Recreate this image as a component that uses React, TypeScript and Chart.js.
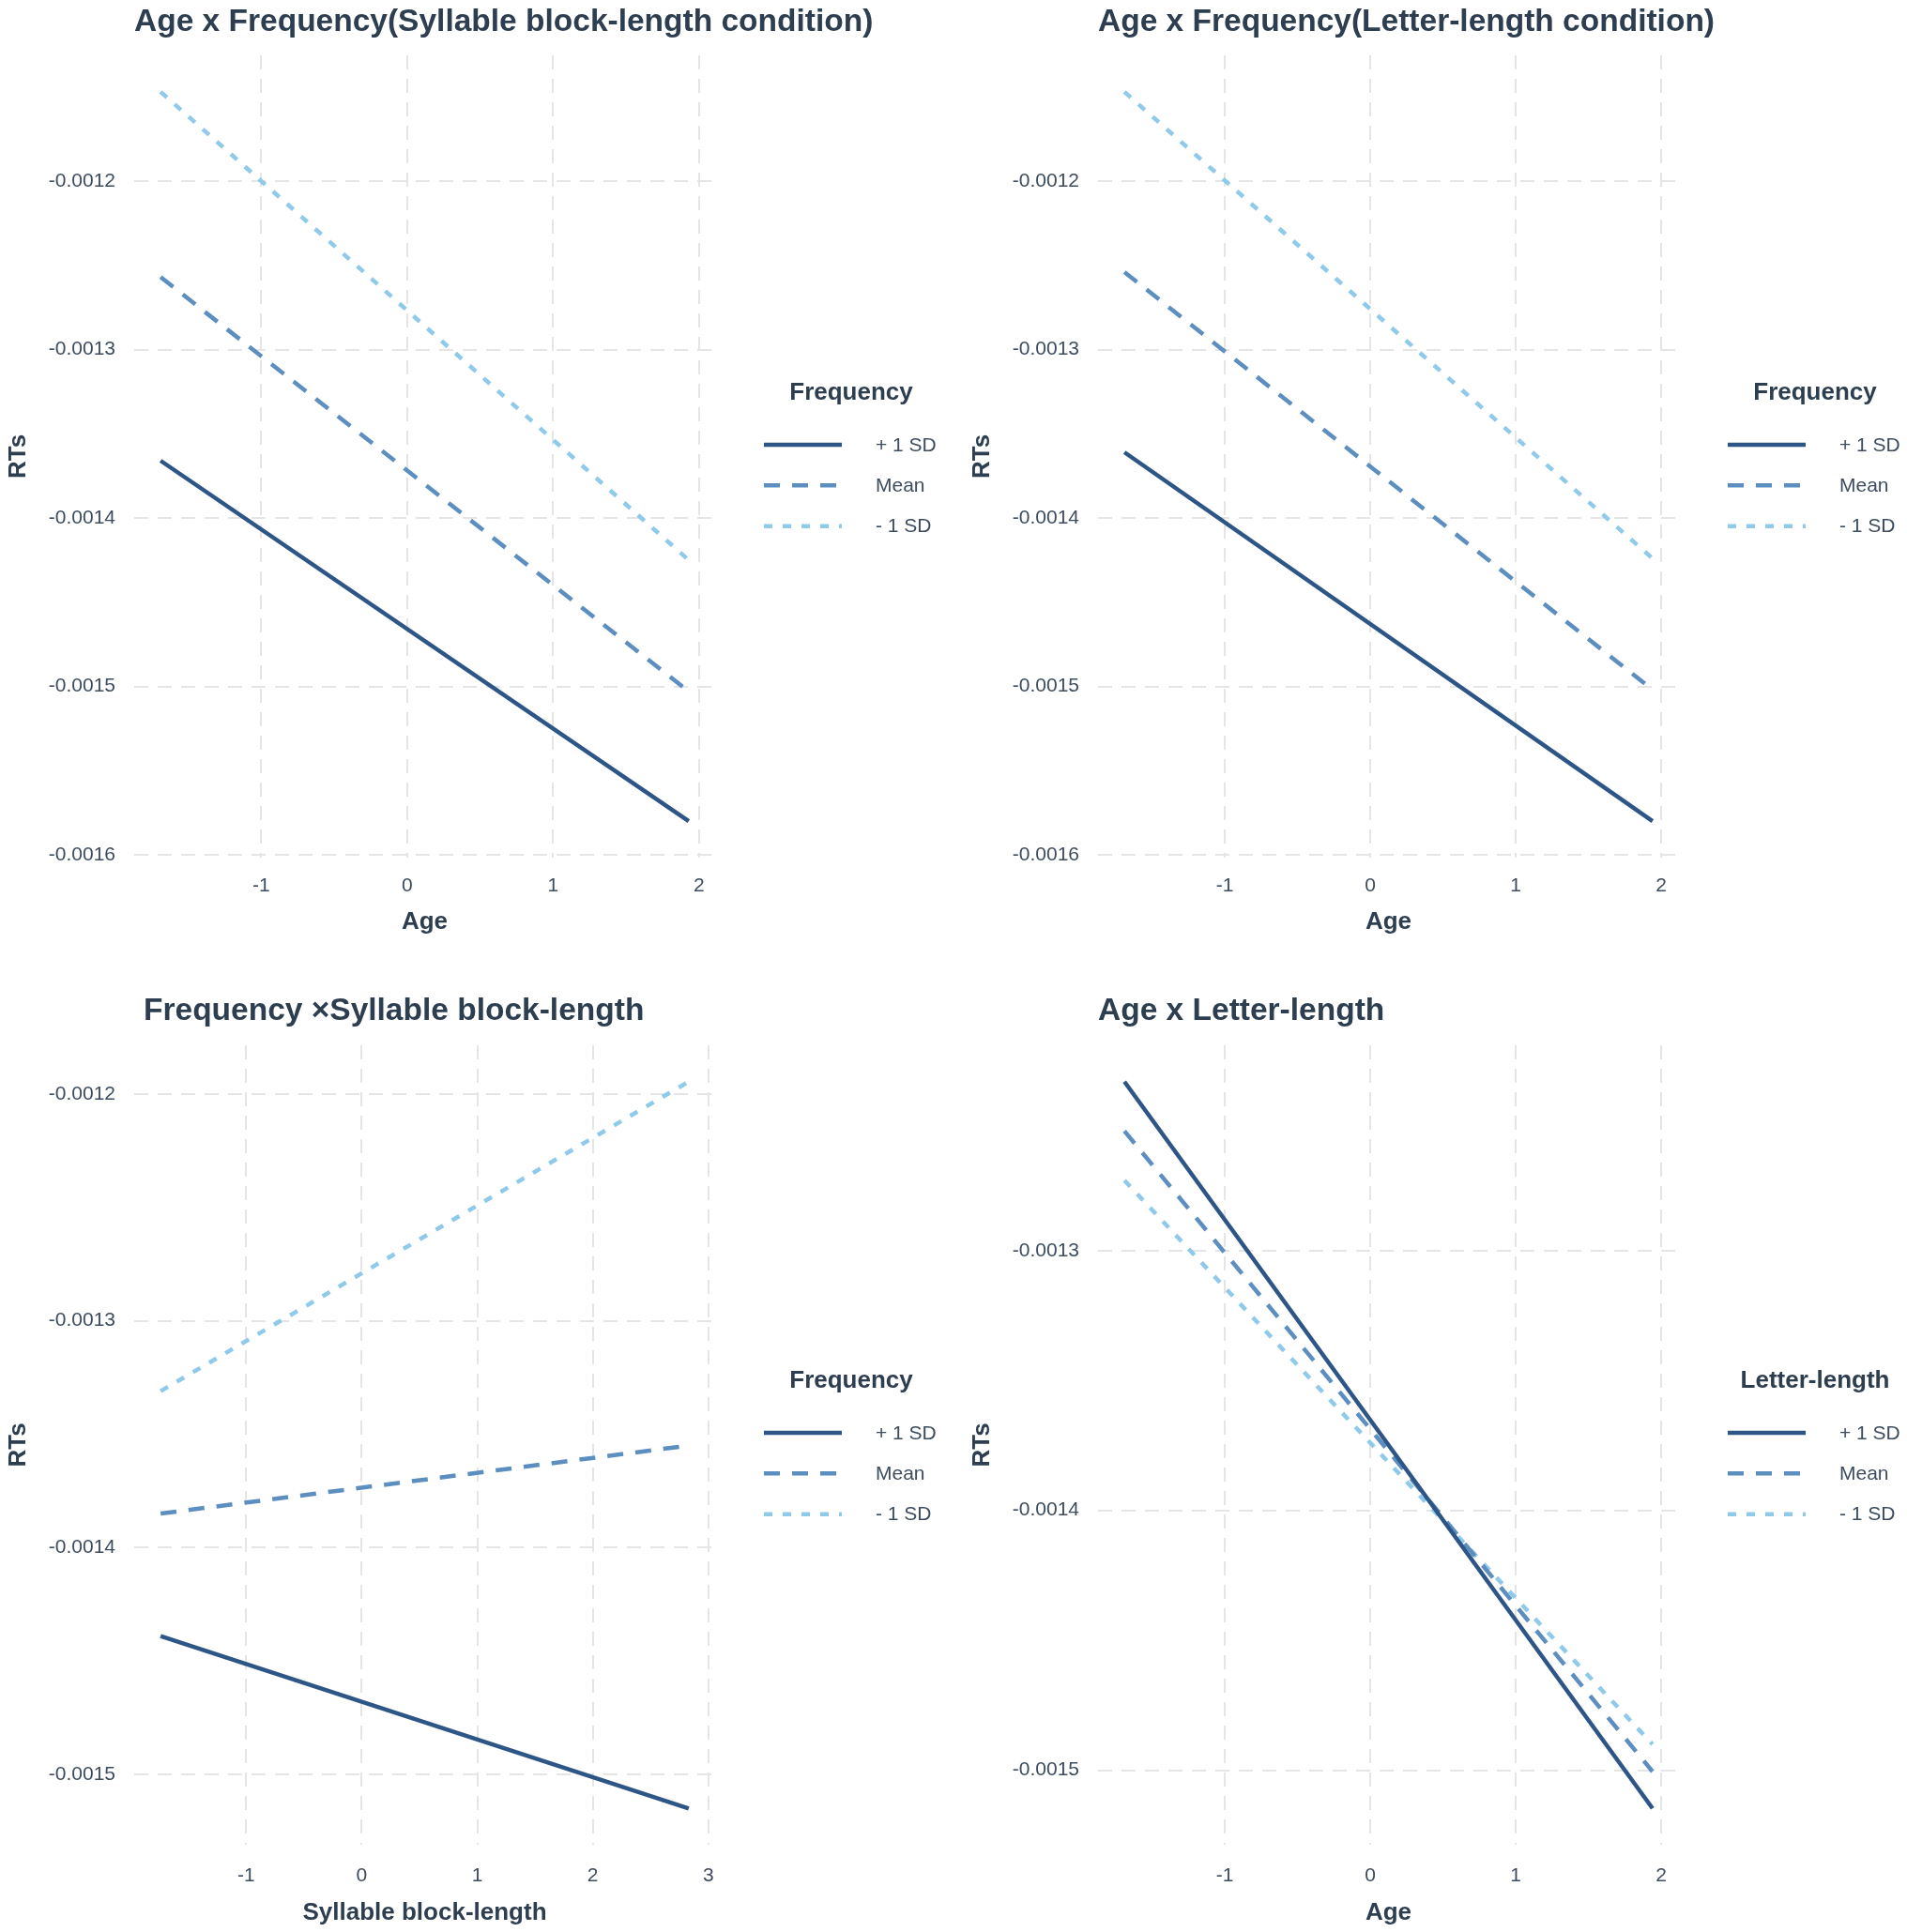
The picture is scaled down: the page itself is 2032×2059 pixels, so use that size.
import React, { useEffect, useRef } from 'react';
import { Chart, registerables } from 'chart.js';

Chart.register(...registerables);

// ---------- data ----------
const seriesLabels = ['+ 1 SD', 'Mean', '- 1 SD'];

// Panel 1: Age x Frequency (Syllable block-length condition)
const p1Age = [-1.69, 1.93];
const p1Plus = [-0.001366, -0.00158];
const p1Mean = [-0.001257, -0.001503];
const p1Minus = [-0.001147, -0.001425];

// Panel 2: Age x Frequency (Letter-length condition)
const p2Age = [-1.69, 1.94];
const p2Plus = [-0.001361, -0.00158];
const p2Mean = [-0.001254, -0.001502];
const p2Minus = [-0.001147, -0.001424];

// Panel 3: Frequency x Syllable block-length
const p3Syl = [-1.74, 2.83];
const p3Plus = [-0.001439, -0.001515];
const p3Mean = [-0.001385, -0.001355];
const p3Minus = [-0.001331, -0.0011945];

// Panel 4: Age x Letter-length
const p4Age = [-1.69, 1.94];
const p4Plus = [-0.001235, -0.0015147];
const p4Mean = [-0.001254, -0.0015005];
const p4Minus = [-0.001273, -0.00149];

const ageTicks = [-1, 0, 1, 2];
const ageTickLabels = ['-1', '0', '1', '2'];
const sylTicks = [-1, 0, 1, 2, 3];
const sylTickLabels = ['-1', '0', '1', '2', '3'];
const rtTicks12 = [-0.0016, -0.0015, -0.0014, -0.0013, -0.0012];
const rtTickLabels12 = ['-0.0016', '-0.0015', '-0.0014', '-0.0013', '-0.0012'];
const rtTicks3 = [-0.0015, -0.0014, -0.0013, -0.0012];
const rtTickLabels3 = ['-0.0015', '-0.0014', '-0.0013', '-0.0012'];
const rtTicks4 = [-0.0015, -0.0014, -0.0013];
const rtTickLabels4 = ['-0.0015', '-0.0014', '-0.0013'];

// ---------- style ----------
const FONT = '"Liberation Sans", Arial, Helvetica, sans-serif';
const TITLE_COLOR = '#2c3e50';
const TEXT_COLOR = '#3d4d5f';
const GRID_COLOR = '#e5e5e5';
const seriesColors = ['#2d5687', '#5c8ec0', '#8fcaeb'];
const seriesDashes: number[][] = [[], [17, 13], [9, 11]];
const LINE_W = 4.5;

const AREA_LEFT = 143;
const AREA_RIGHT = 762;
const X_AXIS_H = 90;
const LEGEND_TITLE_X = 907;
const LEGEND_TITLE_BASE = 426;
const LEGEND_LINE_X0 = 814;
const LEGEND_LINE_X1 = 897;
const LEGEND_TEXT_X = 933;
const LEGEND_ROWS = [474, 517.3, 560.7];

type PanelSpec = {
  title: string;
  xTitle: string;
  legendTitle: string;
  x: number[];
  series: number[][];
  xTicks: number[];
  xTickLabels: string[];
  yTicks: number[];
  yTickLabels: string[];
  left: number;
  top: number;
  width: number;
  height: number;
  areaTop: number;
  areaBottom: number;
  titleX: number;
  titleBase: number;
  xTickPad: number;
  xTitlePad: number;
};

const panels: PanelSpec[] = [
  {
    title: 'Age x Frequency(Syllable block-length condition)',
    xTitle: 'Age',
    legendTitle: 'Frequency',
    x: p1Age,
    series: [p1Plus, p1Mean, p1Minus],
    xTicks: ageTicks,
    xTickLabels: ageTickLabels,
    yTicks: rtTicks12,
    yTickLabels: rtTickLabels12,
    left: 0, top: 0, width: 1027, height: 1053,
    areaTop: 59, areaBottom: 914, titleX: 143, titleBase: 33,
    xTickPad: 18, xTitlePad: 8,
  },
  {
    title: 'Age x Frequency(Letter-length condition)',
    xTitle: 'Age',
    legendTitle: 'Frequency',
    x: p2Age,
    series: [p2Plus, p2Mean, p2Minus],
    xTicks: ageTicks,
    xTickLabels: ageTickLabels,
    yTicks: rtTicks12,
    yTickLabels: rtTickLabels12,
    left: 1027, top: 0, width: 1005, height: 1053,
    areaTop: 59, areaBottom: 914, titleX: 143, titleBase: 33,
    xTickPad: 18, xTitlePad: 8,
  },
  {
    title: 'Frequency \u00d7Syllable block-length',
    xTitle: 'Syllable block-length',
    legendTitle: 'Frequency',
    x: p3Syl,
    series: [p3Plus, p3Mean, p3Minus],
    xTicks: sylTicks,
    xTickLabels: sylTickLabels,
    yTicks: rtTicks3,
    yTickLabels: rtTickLabels3,
    left: 0, top: 1053, width: 1027, height: 1006,
    areaTop: 61, areaBottom: 913, titleX: 153, titleBase: 34,
    xTickPad: 21, xTitlePad: 4,
  },
  {
    title: 'Age x Letter-length',
    xTitle: 'Age',
    legendTitle: 'Letter-length',
    x: p4Age,
    series: [p4Plus, p4Mean, p4Minus],
    xTicks: ageTicks,
    xTickLabels: ageTickLabels,
    yTicks: rtTicks4,
    yTickLabels: rtTickLabels4,
    left: 1027, top: 1053, width: 1005, height: 1006,
    areaTop: 61, areaBottom: 913, titleX: 143, titleBase: 34,
    xTickPad: 21, xTitlePad: 4,
  },
];

function expanded(values: number[]): [number, number] {
  const lo = Math.min(...values);
  const hi = Math.max(...values);
  const pad = (hi - lo) * 0.05;
  return [lo - pad, hi + pad];
}

const decorPlugin = {
  id: 'decor',
  afterDraw(chart: any, _args: any, o: any) {
    const ctx = chart.ctx as CanvasRenderingContext2D;
    ctx.save();
    ctx.fillStyle = TITLE_COLOR;
    ctx.textAlign = 'left';
    ctx.textBaseline = 'alphabetic';
    ctx.font = `bold 33.5px ${FONT}`;
    ctx.fillText(o.title, o.titleX, o.titleBase);

    ctx.font = `bold 26px ${FONT}`;
    ctx.textAlign = 'center';
    ctx.fillText(o.legendTitle, LEGEND_TITLE_X, LEGEND_TITLE_BASE);

    chart.data.datasets.forEach((ds: any, i: number) => {
      const y = LEGEND_ROWS[i];
      ctx.strokeStyle = ds.borderColor;
      ctx.lineWidth = ds.borderWidth;
      ctx.lineCap = 'butt';
      ctx.setLineDash(ds.borderDash || []);
      ctx.beginPath();
      ctx.moveTo(LEGEND_LINE_X0, y);
      ctx.lineTo(LEGEND_LINE_X1, y);
      ctx.stroke();
      ctx.setLineDash([]);
      ctx.fillStyle = TEXT_COLOR;
      ctx.font = `21px ${FONT}`;
      ctx.textAlign = 'left';
      ctx.textBaseline = 'middle';
      ctx.fillText(ds.label, LEGEND_TEXT_X, y + 1);
    });
    ctx.restore();
  },
};

function buildConfig(p: PanelSpec): any {
  const [x0, x1] = expanded(p.x);
  const [y0, y1] = expanded(p.series.flat());
  const datasets = p.series.map((vals, i) => ({
    label: seriesLabels[i],
    data: p.x.map((xv, j) => ({ x: xv, y: vals[j] })),
    borderColor: seriesColors[i],
    backgroundColor: seriesColors[i],
    borderWidth: LINE_W,
    borderDash: seriesDashes[i],
    borderCapStyle: 'butt',
    pointRadius: 0,
    pointHoverRadius: 0,
    fill: false,
    tension: 0,
  }));
  const tickFont = { family: FONT, size: 21 };
  const titleFont = { family: FONT, size: 26, weight: 'bold', lineHeight: 1 };
  return {
    type: 'line',
    data: { datasets },
    options: {
      responsive: false,
      animation: false,
      events: [],
      layout: {
        padding: {
          left: 0,
          top: p.areaTop,
          right: p.width - AREA_RIGHT,
          bottom: p.height - p.areaBottom - X_AXIS_H,
        },
      },
      plugins: {
        legend: { display: false },
        title: { display: false },
        tooltip: { enabled: false },
        decor: {
          title: p.title,
          titleX: p.titleX,
          titleBase: p.titleBase,
          legendTitle: p.legendTitle,
        },
      },
      scales: {
        x: {
          type: 'linear',
          min: x0,
          max: x1,
          afterBuildTicks: (s: any) => {
            s.ticks = p.xTicks.map((v) => ({ value: v }));
          },
          afterFit: (s: any) => {
            s.height = X_AXIS_H;
          },
          grid: { color: GRID_COLOR, lineWidth: 2, drawTicks: false },
          border: { display: false, dash: [15, 10] },
          ticks: {
            padding: p.xTickPad,
            font: tickFont,
            color: TEXT_COLOR,
            maxRotation: 0,
            autoSkip: false,
            callback: (_v: any, i: number) => p.xTickLabels[i],
          },
          title: {
            display: true,
            text: p.xTitle,
            font: titleFont,
            color: TITLE_COLOR,
            padding: { top: 0, bottom: p.xTitlePad },
          },
        },
        y: {
          type: 'linear',
          min: y0,
          max: y1,
          afterBuildTicks: (s: any) => {
            s.ticks = p.yTicks.map((v) => ({ value: v }));
          },
          afterFit: (s: any) => {
            s.width = AREA_LEFT;
          },
          grid: { color: GRID_COLOR, lineWidth: 2, drawTicks: false },
          border: { display: false, dash: [15, 10] },
          ticks: {
            padding: 20,
            font: tickFont,
            color: TEXT_COLOR,
            autoSkip: false,
            callback: (_v: any, i: number) => p.yTickLabels[i],
          },
          title: {
            display: true,
            text: 'RTs',
            font: titleFont,
            color: TITLE_COLOR,
            padding: { top: 7, bottom: 0 },
          },
        },
      },
    },
    plugins: [decorPlugin],
  };
}

function Panel({ spec }: { spec: PanelSpec }) {
  const ref = useRef<HTMLCanvasElement>(null);
  useEffect(() => {
    if (!ref.current) return;
    const chart = new Chart(ref.current, buildConfig(spec));
    return () => chart.destroy();
  }, [spec]);
  return (
    <canvas
      ref={ref}
      width={spec.width}
      height={spec.height}
      style={{
        position: 'absolute',
        left: spec.left,
        top: spec.top,
        width: spec.width,
        height: spec.height,
      }}
    />
  );
}

export default function App() {
  return (
    <div
      style={{
        position: 'absolute',
        left: 0,
        top: 0,
        width: 2032,
        height: 2059,
        background: '#ffffff',
        overflow: 'hidden',
      }}
    >
      {panels.map((p, i) => (
        <Panel key={i} spec={p} />
      ))}
    </div>
  );
}
